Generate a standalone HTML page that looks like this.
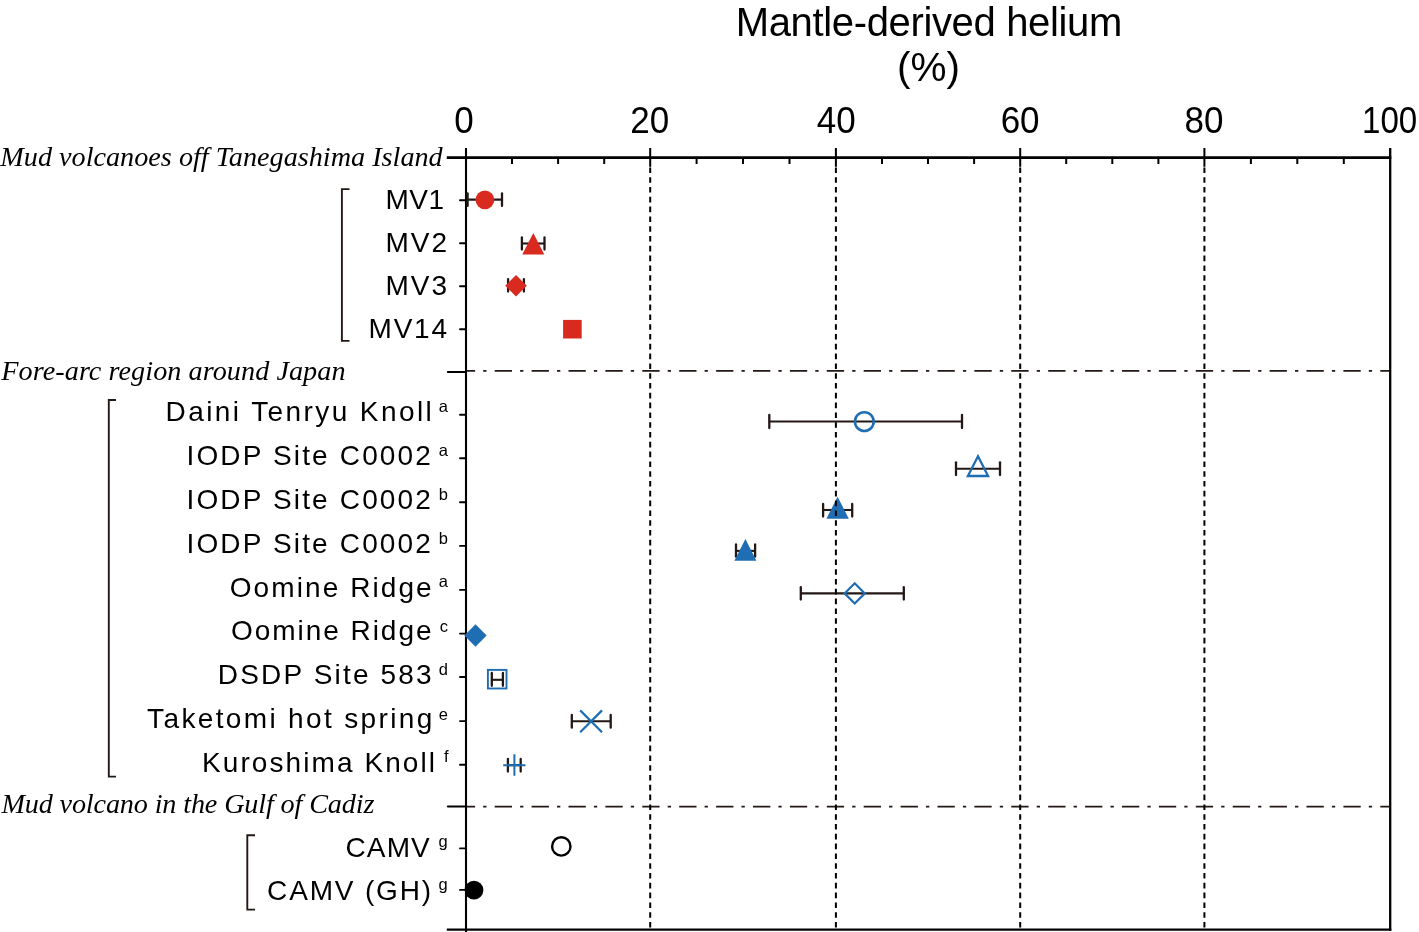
<!DOCTYPE html>
<html><head><meta charset="utf-8"><title>Mantle-derived helium</title>
<style>
html,body{margin:0;padding:0;background:#fff;width:1419px;height:932px;overflow:hidden}
svg{display:block;will-change:transform}
.s{font-family:"Liberation Sans",sans-serif;fill:#000}
.i{font-family:"Liberation Serif",serif;font-style:italic;fill:#000}
</style></head><body>
<svg width="1419" height="932" viewBox="0 0 1419 932">
<line x1="467.0" y1="370.9" x2="1389.2" y2="370.9" stroke="#231815" stroke-width="1.7" stroke-dasharray="17.3 8.1 3.3 8.2" stroke-dashoffset="9.20"/>
<line x1="467.0" y1="806.6" x2="1389.2" y2="806.6" stroke="#231815" stroke-width="1.7" stroke-dasharray="17.3 8.1 3.3 8.2" stroke-dashoffset="9.20"/>
<line x1="446.8" y1="157.6" x2="1391.3" y2="157.6" stroke="#000" stroke-width="2.7"/>
<line x1="446.8" y1="929.6" x2="1391.3" y2="929.6" stroke="#000" stroke-width="2.3"/>
<line x1="466" y1="148" x2="466" y2="932" stroke="#000" stroke-width="2.1"/>
<line x1="1390.2" y1="148" x2="1390.2" y2="930.7" stroke="#000" stroke-width="2.3"/>
<line x1="650.2" y1="148" x2="650.2" y2="166.8" stroke="#000" stroke-width="2"/>
<line x1="835.9" y1="148" x2="835.9" y2="166.8" stroke="#000" stroke-width="2"/>
<line x1="1020.2" y1="148" x2="1020.2" y2="166.8" stroke="#000" stroke-width="2"/>
<line x1="1204.4" y1="148" x2="1204.4" y2="166.8" stroke="#000" stroke-width="2"/>
<line x1="512.0" y1="157.6" x2="512.0" y2="164" stroke="#000" stroke-width="2"/>
<line x1="558.1" y1="157.6" x2="558.1" y2="164" stroke="#000" stroke-width="2"/>
<line x1="604.2" y1="157.6" x2="604.2" y2="164" stroke="#000" stroke-width="2"/>
<line x1="696.6" y1="157.6" x2="696.6" y2="164" stroke="#000" stroke-width="2"/>
<line x1="743.0" y1="157.6" x2="743.0" y2="164" stroke="#000" stroke-width="2"/>
<line x1="789.5" y1="157.6" x2="789.5" y2="164" stroke="#000" stroke-width="2"/>
<line x1="882.0" y1="157.6" x2="882.0" y2="164" stroke="#000" stroke-width="2"/>
<line x1="928.0" y1="157.6" x2="928.0" y2="164" stroke="#000" stroke-width="2"/>
<line x1="974.1" y1="157.6" x2="974.1" y2="164" stroke="#000" stroke-width="2"/>
<line x1="1066.2" y1="157.6" x2="1066.2" y2="164" stroke="#000" stroke-width="2"/>
<line x1="1112.3" y1="157.6" x2="1112.3" y2="164" stroke="#000" stroke-width="2"/>
<line x1="1158.4" y1="157.6" x2="1158.4" y2="164" stroke="#000" stroke-width="2"/>
<line x1="1250.9" y1="157.6" x2="1250.9" y2="164" stroke="#000" stroke-width="2"/>
<line x1="1297.3" y1="157.6" x2="1297.3" y2="164" stroke="#000" stroke-width="2"/>
<line x1="1343.8" y1="157.6" x2="1343.8" y2="164" stroke="#000" stroke-width="2"/>
<line x1="460.0" y1="200.3" x2="466" y2="200.3" stroke="#000" stroke-width="1.9" stroke-linecap="round"/>
<line x1="460.0" y1="243.3" x2="466" y2="243.3" stroke="#000" stroke-width="1.9" stroke-linecap="round"/>
<line x1="460.0" y1="286.2" x2="466" y2="286.2" stroke="#000" stroke-width="1.9" stroke-linecap="round"/>
<line x1="460.0" y1="329.3" x2="466" y2="329.3" stroke="#000" stroke-width="1.9" stroke-linecap="round"/>
<line x1="460.0" y1="414.8" x2="466" y2="414.8" stroke="#000" stroke-width="1.9" stroke-linecap="round"/>
<line x1="460.0" y1="458.3" x2="466" y2="458.3" stroke="#000" stroke-width="1.9" stroke-linecap="round"/>
<line x1="460.0" y1="502.2" x2="466" y2="502.2" stroke="#000" stroke-width="1.9" stroke-linecap="round"/>
<line x1="460.0" y1="545.9" x2="466" y2="545.9" stroke="#000" stroke-width="1.9" stroke-linecap="round"/>
<line x1="460.0" y1="589.9" x2="466" y2="589.9" stroke="#000" stroke-width="1.9" stroke-linecap="round"/>
<line x1="460.0" y1="633.6" x2="466" y2="633.6" stroke="#000" stroke-width="1.9" stroke-linecap="round"/>
<line x1="460.0" y1="677.0" x2="466" y2="677.0" stroke="#000" stroke-width="1.9" stroke-linecap="round"/>
<line x1="460.0" y1="721.1" x2="466" y2="721.1" stroke="#000" stroke-width="1.9" stroke-linecap="round"/>
<line x1="460.0" y1="764.7" x2="466" y2="764.7" stroke="#000" stroke-width="1.9" stroke-linecap="round"/>
<line x1="460.0" y1="848.4" x2="466" y2="848.4" stroke="#000" stroke-width="1.9" stroke-linecap="round"/>
<line x1="460.0" y1="889.9" x2="466" y2="889.9" stroke="#000" stroke-width="1.9" stroke-linecap="round"/>
<line x1="447.9" y1="372.0" x2="466" y2="372.0" stroke="#000" stroke-width="2.2" stroke-linecap="round"/>
<line x1="447.9" y1="806.5" x2="466" y2="806.5" stroke="#000" stroke-width="2.2" stroke-linecap="round"/>
<path d="M349.5 189.1 H341.9 V340.90000000000003 H349.5" fill="none" stroke="#231815" stroke-width="1.9"/>
<path d="M116.0 400.0 H108.8 V776.6 H116.0" fill="none" stroke="#231815" stroke-width="1.9"/>
<path d="M255.0 835.3 H247.3 V909.6 H255.0" fill="none" stroke="#231815" stroke-width="1.9"/>
<text x="0" y="0" font-size="35" text-anchor="middle" class="s" transform="translate(464.00 132.7) scale(1 1.05)">0</text>
<text x="0" y="0" font-size="35" text-anchor="middle" class="s" transform="translate(649.80 132.7) scale(1 1.05)">20</text>
<text x="0" y="0" font-size="35" text-anchor="middle" class="s" transform="translate(836.20 132.7) scale(1 1.05)">40</text>
<text x="0" y="0" font-size="35" text-anchor="middle" class="s" transform="translate(1020.10 132.7) scale(1 1.05)">60</text>
<text x="0" y="0" font-size="35" text-anchor="middle" class="s" transform="translate(1204.05 132.7) scale(1 1.05)">80</text>
<text x="0" y="0" font-size="35" text-anchor="middle" class="s" transform="translate(1389.60 132.7) scale(0.945 1.05)">100</text>
<text x="928.8" y="36" font-size="40" letter-spacing="-0.35" text-anchor="middle" class="s">Mantle-derived helium</text>
<text x="928.6" y="81" font-size="40.5" text-anchor="middle" class="s">(%)</text>
<text x="0.30" y="166.0" font-size="28.2" class="i" textLength="442.40" lengthAdjust="spacing">Mud volcanoes off Tanegashima Island</text>
<text x="1.30" y="380.0" font-size="28.2" class="i" textLength="344.20" lengthAdjust="spacing">Fore-arc region around Japan</text>
<text x="1.40" y="813.3" font-size="28.2" class="i" textLength="373.00" lengthAdjust="spacing">Mud volcano in the Gulf of Cadiz</text>
<text x="385.40" y="208.7" font-size="28" class="s" textLength="58.60" lengthAdjust="spacing">MV1</text>
<text x="385.40" y="251.7" font-size="28" class="s" textLength="61.80" lengthAdjust="spacing">MV2</text>
<text x="385.40" y="294.7" font-size="28" class="s" textLength="61.60" lengthAdjust="spacing">MV3</text>
<text x="368.60" y="337.5" font-size="28" class="s" textLength="78.40" lengthAdjust="spacing">MV14</text>
<text x="165.60" y="420.9" font-size="28" class="s" textLength="266.20" lengthAdjust="spacing">Daini Tenryu Knoll</text>
<text x="438.80" y="411.7" font-size="16.5" class="s">a</text>
<text x="186.50" y="465.0" font-size="28" class="s" textLength="244.40" lengthAdjust="spacing">IODP Site C0002</text>
<text x="438.80" y="456.0" font-size="16.5" class="s">a</text>
<text x="186.50" y="508.9" font-size="28" class="s" textLength="244.40" lengthAdjust="spacing">IODP Site C0002</text>
<text x="438.80" y="499.6" font-size="16.5" class="s">b</text>
<text x="186.50" y="552.6" font-size="28" class="s" textLength="244.40" lengthAdjust="spacing">IODP Site C0002</text>
<text x="438.80" y="543.9" font-size="16.5" class="s">b</text>
<text x="229.70" y="596.9" font-size="28" class="s" textLength="202.00" lengthAdjust="spacing">Oomine Ridge</text>
<text x="438.80" y="587.0" font-size="16.5" class="s">a</text>
<text x="230.90" y="639.9" font-size="28" class="s" textLength="200.60" lengthAdjust="spacing">Oomine Ridge</text>
<text x="439.70" y="631.6" font-size="16.5" class="s">c</text>
<text x="217.80" y="684.1" font-size="28" class="s" textLength="213.80" lengthAdjust="spacing">DSDP Site 583</text>
<text x="438.80" y="675.2" font-size="16.5" class="s">d</text>
<text x="147.10" y="727.6" font-size="28" class="s" textLength="285.20" lengthAdjust="spacing">Taketomi hot spring</text>
<text x="438.80" y="719.5" font-size="16.5" class="s">e</text>
<text x="202.00" y="771.7" font-size="28" class="s" textLength="233.00" lengthAdjust="spacing">Kuroshima Knoll</text>
<text x="443.90" y="761.7" font-size="16.5" class="s">f</text>
<text x="345.40" y="856.9" font-size="28" class="s" textLength="84.40" lengthAdjust="spacing">CAMV</text>
<text x="438.60" y="847.2" font-size="16.5" class="s">g</text>
<text x="267.10" y="899.5" font-size="28" class="s" textLength="164.00" lengthAdjust="spacing">CAMV (GH)</text>
<text x="438.60" y="890.3" font-size="16.5" class="s">g</text>
<line x1="467.6" y1="199.6" x2="502.0" y2="199.6" stroke="#231815" stroke-width="2.1"/>
<line x1="467.6" y1="193.4" x2="467.6" y2="205.9" stroke="#231815" stroke-width="2.3" stroke-linecap="round"/>
<line x1="502.0" y1="193.4" x2="502.0" y2="205.9" stroke="#231815" stroke-width="2.3" stroke-linecap="round"/>
<line x1="521.9" y1="243.5" x2="544.5" y2="243.5" stroke="#231815" stroke-width="2.1"/>
<line x1="521.9" y1="237.5" x2="521.9" y2="249.6" stroke="#231815" stroke-width="2.3" stroke-linecap="round"/>
<line x1="544.5" y1="237.5" x2="544.5" y2="249.6" stroke="#231815" stroke-width="2.3" stroke-linecap="round"/>
<line x1="508.1" y1="285.7" x2="523.9" y2="285.7" stroke="#231815" stroke-width="2.1"/>
<line x1="508.1" y1="279.1" x2="508.1" y2="291.59999999999997" stroke="#231815" stroke-width="2.3" stroke-linecap="round"/>
<line x1="523.9" y1="279.1" x2="523.9" y2="291.59999999999997" stroke="#231815" stroke-width="2.3" stroke-linecap="round"/>
<line x1="769.3" y1="421.5" x2="962.0" y2="421.5" stroke="#231815" stroke-width="2.1"/>
<line x1="769.3" y1="415.0" x2="769.3" y2="428.09999999999997" stroke="#231815" stroke-width="2.3" stroke-linecap="round"/>
<line x1="962.0" y1="415.0" x2="962.0" y2="428.09999999999997" stroke="#231815" stroke-width="2.3" stroke-linecap="round"/>
<line x1="956.0" y1="468.8" x2="1000.0" y2="468.8" stroke="#231815" stroke-width="2.1"/>
<line x1="956.0" y1="462.3" x2="956.0" y2="475.09999999999997" stroke="#231815" stroke-width="2.3" stroke-linecap="round"/>
<line x1="1000.0" y1="462.3" x2="1000.0" y2="475.09999999999997" stroke="#231815" stroke-width="2.3" stroke-linecap="round"/>
<line x1="823.1" y1="510.0" x2="852.2" y2="510.0" stroke="#231815" stroke-width="2.1"/>
<line x1="823.1" y1="503.90000000000003" x2="823.1" y2="516.6" stroke="#231815" stroke-width="2.3" stroke-linecap="round"/>
<line x1="852.2" y1="503.90000000000003" x2="852.2" y2="516.6" stroke="#231815" stroke-width="2.3" stroke-linecap="round"/>
<line x1="736.0" y1="550.9" x2="755.1" y2="550.9" stroke="#231815" stroke-width="2.1"/>
<line x1="736.0" y1="544.4" x2="736.0" y2="556.6999999999999" stroke="#231815" stroke-width="2.3" stroke-linecap="round"/>
<line x1="755.1" y1="544.4" x2="755.1" y2="556.6999999999999" stroke="#231815" stroke-width="2.3" stroke-linecap="round"/>
<line x1="800.8" y1="593.4" x2="903.8" y2="593.4" stroke="#231815" stroke-width="2.1"/>
<line x1="800.8" y1="587.2" x2="800.8" y2="599.5" stroke="#231815" stroke-width="2.3" stroke-linecap="round"/>
<line x1="903.8" y1="587.2" x2="903.8" y2="599.5" stroke="#231815" stroke-width="2.3" stroke-linecap="round"/>
<line x1="491.8" y1="679.8" x2="502.9" y2="679.8" stroke="#231815" stroke-width="2.1"/>
<line x1="491.8" y1="673.0" x2="491.8" y2="685.8" stroke="#231815" stroke-width="2.3" stroke-linecap="round"/>
<line x1="502.9" y1="673.0" x2="502.9" y2="685.8" stroke="#231815" stroke-width="2.3" stroke-linecap="round"/>
<line x1="571.8" y1="721.3" x2="610.7" y2="721.3" stroke="#231815" stroke-width="2.1"/>
<line x1="571.8" y1="714.9" x2="571.8" y2="727.6999999999999" stroke="#231815" stroke-width="2.3" stroke-linecap="round"/>
<line x1="610.7" y1="714.9" x2="610.7" y2="727.6999999999999" stroke="#231815" stroke-width="2.3" stroke-linecap="round"/>
<line x1="507.9" y1="765.2" x2="520.7" y2="765.2" stroke="#231815" stroke-width="2.1"/>
<line x1="507.9" y1="758.9" x2="507.9" y2="771.6" stroke="#231815" stroke-width="2.3" stroke-linecap="round"/>
<line x1="520.7" y1="758.9" x2="520.7" y2="771.6" stroke="#231815" stroke-width="2.3" stroke-linecap="round"/>
<circle cx="484.9" cy="199.8" r="9.4" fill="#d92a20"/>
<path d="M533.3 232.9 L544.3 254.4 L522.3 254.4 Z" fill="#d92a20"/>
<path d="M516 274.9 L526.8 285.7 L516 296.5 L505.2 285.7 Z" fill="#d92a20"/>
<rect x="563.1" y="319.9" width="18.6" height="18.6" fill="#d92a20"/>
<circle cx="864.3" cy="421.6" r="9.4" fill="none" stroke="#1f6db2" stroke-width="2.6"/>
<path d="M978 456.2 L988.1 476 L967.9 476 Z" fill="none" stroke="#1f6db2" stroke-width="2.3" stroke-linejoin="miter"/>
<path d="M837.6 496.8 L848.8 518.7 L826.4 518.7 Z" fill="#1f6db2"/>
<path d="M745.4 538.9 L756.4 560.8 L734.4 560.8 Z" fill="#1f6db2"/>
<path d="M854.7 583.3 L864.8 593.4 L854.7 603.5 L844.6 593.4 Z" fill="none" stroke="#1f6db2" stroke-width="2.2"/>
<path d="M475.5 624.2 L486.6 635.5 L475.5 646.8 L464.4 635.5 Z" fill="#1f6db2"/>
<rect x="487.9" y="669.9" width="18.6" height="18.6" fill="none" stroke="#1f6db2" stroke-width="1.9"/>
<path d="M580.2 710.4 L602 732.2 M602 710.4 L580.2 732.2" stroke="#1f6db2" stroke-width="2.2"/>
<path d="M514.4 754.3 V775.8 M503.2 765.2 H525.5" stroke="#1f6db2" stroke-width="2"/>
<circle cx="561.3" cy="846.4" r="9.2" fill="none" stroke="#000" stroke-width="2.4"/>
<circle cx="474" cy="890.1" r="9.4" fill="#000"/>
<line x1="650.2" y1="167.4" x2="650.2" y2="929" stroke="#000" stroke-width="2" stroke-dasharray="5.6 4.2"/>
<line x1="835.9" y1="167.4" x2="835.9" y2="929" stroke="#000" stroke-width="2" stroke-dasharray="5.6 4.2"/>
<line x1="1020.2" y1="167.4" x2="1020.2" y2="929" stroke="#000" stroke-width="2" stroke-dasharray="5.6 4.2"/>
<line x1="1204.4" y1="167.4" x2="1204.4" y2="929" stroke="#000" stroke-width="2" stroke-dasharray="5.6 4.2"/>
</svg>
</body></html>
